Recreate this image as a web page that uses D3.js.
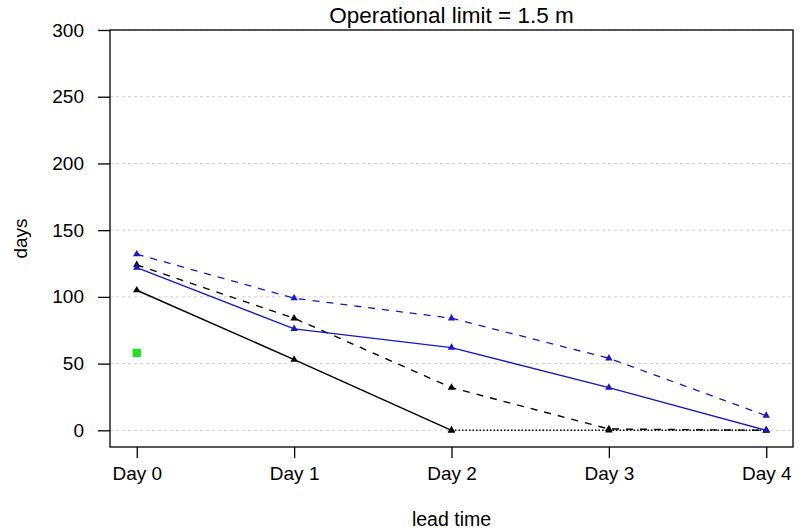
<!DOCTYPE html>
<html>
<head>
<meta charset="utf-8">
<script src="https://cdn.jsdelivr.net/npm/d3@7"></script>
<style>
  body { margin: 0; background: #fff; }
  svg { font-family: "Liberation Sans", Arial, sans-serif; }
</style>
</head>
<body>
<svg id="chart" width="801" height="531"></svg>
<script>
'use strict'

// lead time categories
const days = ['Day 0', 'Day 1', 'Day 2', 'Day 3', 'Day 4']
const yTicks = [0, 50, 100, 150, 200, 250, 300]

// series values (null = not drawn)
const blackSolid  = [105, 53, 0, null, null]
const blackDashed = [124, 84, 32, 1, 0]
const blueSolid   = [122, 76, 62, 32, 0]
const blueDashed  = [132, 99, 84, 54, 11]
const blackDotted = [null, null, 0, 0, 0]
const greenPoint  = [58, null, null, null, null]

const titleText = 'Operational limit = 1.5 m'

const box = {left: 110, right: 793, top: 30, bottom: 447}

const x = d3.scalePoint().domain(days).range([box.left, box.right]).padding(0.17)
const y = d3.scaleLinear().domain([-12.5, 300]).range([box.bottom, box.top])

const svg = d3.select('#chart')

// grid lines
svg.append('g').selectAll('line')
  .data(yTicks)
  .enter().append('line')
    .attr('x1', box.left).attr('x2', box.right)
    .attr('y1', d => y(d)).attr('y2', d => y(d))
    .attr('stroke', '#cfcfcf')
    .attr('stroke-dasharray', '3,3')

// series definitions
const series = [
  {values: blackDotted, color: '#000', dash: '1.5,2', width: 1.4},
  {values: blackSolid, color: '#000', dash: null, width: 1.5},
  {values: blackDashed, color: '#000', dash: '7,7', width: 1.4},
  {values: blueSolid, color: '#1818c8', dash: null, width: 1.3},
  {values: blueDashed, color: '#1818c8', dash: '7,7', width: 1.3}
]

const line = d3.line()
  .defined(d => d.v !== null)
  .x(d => x(d.day))
  .y(d => y(d.v))

series.forEach(s => {
  const pts = s.values.map((v, i) => ({day: days[i], v: v}))
  svg.append('path')
    .datum(pts)
    .attr('d', line)
    .attr('fill', 'none')
    .attr('stroke', s.color)
    .attr('stroke-width', s.width)
    .attr('stroke-dasharray', s.dash)
  svg.append('g').selectAll('path')
    .data(pts.filter(d => d.v !== null))
    .enter().append('path')
      .attr('transform', d => 'translate(' + x(d.day) + ',' + y(d.v) + ')')
      .attr('d', d3.symbol().type(d3.symbolTriangle).size(24))
      .attr('fill', s.color)
})

// green point
svg.append('g').selectAll('path')
  .data(greenPoint.map((v, i) => ({day: days[i], v: v})).filter(d => d.v !== null))
  .enter().append('path')
    .attr('transform', d => 'translate(' + x(d.day) + ',' + y(d.v) + ')')
    .attr('d', d3.symbol().type(d3.symbolSquare).size(70))
    .attr('fill', '#22e022')

// frame
svg.append('rect')
  .attr('x', box.left).attr('y', box.top)
  .attr('width', box.right - box.left).attr('height', box.bottom - box.top)
  .attr('fill', 'none').attr('stroke', '#000').attr('stroke-width', 1.3)

// y axis
const yAxis = svg.append('g')
  .attr('transform', 'translate(' + box.left + ',0)')
  .call(d3.axisLeft(y).tickValues(yTicks).tickSize(12).tickPadding(14))
yAxis.select('.domain').remove()

// x axis
const xAxis = svg.append('g')
  .attr('transform', 'translate(0,' + box.bottom + ')')
  .call(d3.axisBottom(x).tickSize(11).tickPadding(9))
xAxis.select('.domain').remove()

svg.selectAll('.tick text').attr('font-size', 19).attr('fill', '#000').attr('font-family', '"Liberation Sans", Arial, sans-serif')
svg.selectAll('.tick line').attr('stroke', '#000').attr('stroke-width', 1.3)

// title and axis labels
svg.append('text')
  .attr('x', (box.left + box.right) / 2).attr('y', 23)
  .attr('text-anchor', 'middle').attr('font-size', 22.5)
  .text(titleText)

svg.append('text')
  .attr('x', (box.left + box.right) / 2).attr('y', 526)
  .attr('text-anchor', 'middle').attr('font-size', 19.5)
  .text('lead time')

svg.append('text')
  .attr('transform', 'translate(27,' + ((box.top + box.bottom) / 2) + ') rotate(-90)')
  .attr('text-anchor', 'middle').attr('font-size', 19)
  .text('days')
</script>
</body>
</html>
